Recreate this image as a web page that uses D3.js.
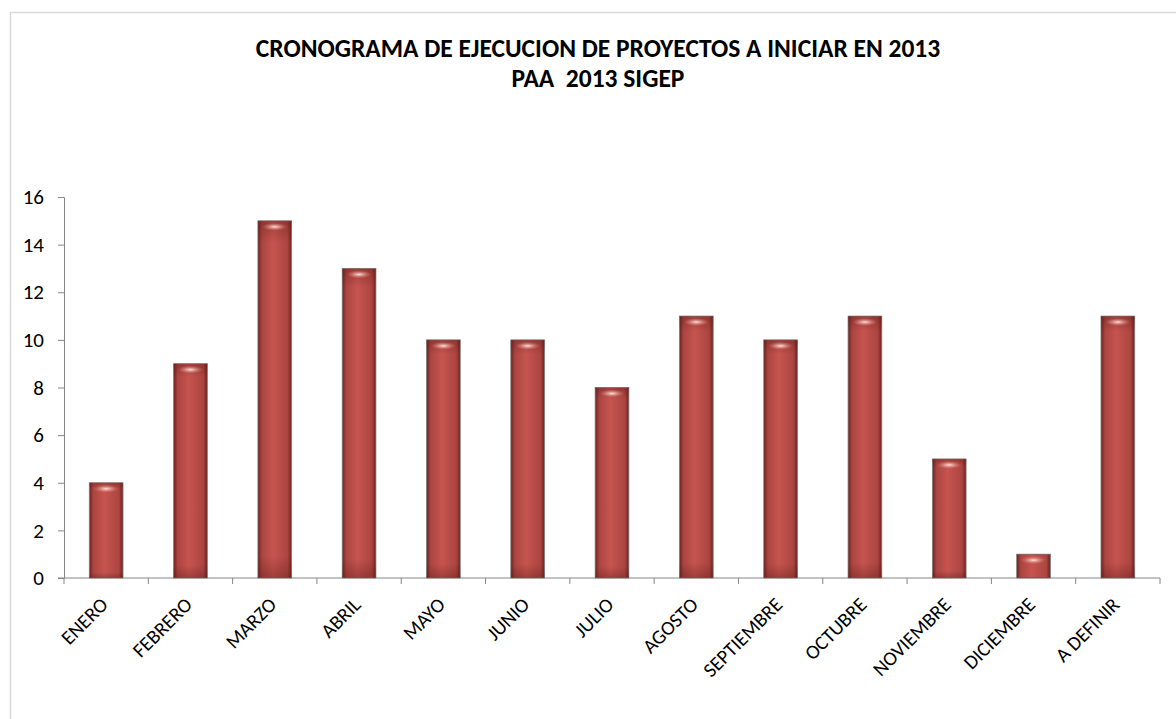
<!DOCTYPE html>
<html>
<head>
<meta charset="utf-8">
<script src="https://d3js.org/d3.v7.min.js"></script>
<style>
  body { margin: 0; background: #fff; }
  svg text { font-family: Carlito, Lato, "Open Sans", sans-serif; }
</style>
</head>
<body>
<div id="vis"></div>
<script>
// chart data
var months = ["ENERO", "FEBRERO", "MARZO", "ABRIL", "MAYO", "JUNIO", "JULIO",
  "AGOSTO", "SEPTIEMBRE", "OCTUBRE", "NOVIEMBRE", "DICIEMBRE", "A DEFINIR"];
var projects = [4, 9, 15, 13, 10, 10, 8, 11, 10, 11, 5, 1, 11];
var yTicks = [0, 2, 4, 6, 8, 10, 12, 14, 16];
var titleLines = ["CRONOGRAMA DE EJECUCION DE PROYECTOS A INICIAR EN 2013", "PAA  2013 SIGEP"];

var W = 1176, H = 719;
var margin = { top: 197, right: 16, bottom: 141, left: 64 };
var width = W - margin.left - margin.right,
    height = H - margin.top - margin.bottom;

var svg = d3.select("#vis").append("svg")
  .attr("width", W)
  .attr("height", H);

// outer chart frame (only top/left visible in the window)
svg.append("rect")
  .attr("x", 10.5).attr("y", 12.5)
  .attr("width", W + 20).attr("height", H + 20)
  .attr("fill", "none")
  .attr("stroke", "#d9d9d9")
  .attr("stroke-width", 1.5);

var defs = svg.append("defs");
var gx = defs.append("linearGradient").attr("id", "barH")
  .attr("x1", "0").attr("x2", "1").attr("y1", "0").attr("y2", "0");
gx.append("stop").attr("offset", "0%").attr("stop-color", "#6e211e");
gx.append("stop").attr("offset", "12%").attr("stop-color", "#ab4541");
gx.append("stop").attr("offset", "45%").attr("stop-color", "#c6544f");
gx.append("stop").attr("offset", "88%").attr("stop-color", "#ab4541");
gx.append("stop").attr("offset", "100%").attr("stop-color", "#6e211e");

var gy = defs.append("linearGradient").attr("id", "barV")
  .attr("x1", "0").attr("x2", "0").attr("y1", "0").attr("y2", "1");
gy.append("stop").attr("offset", "0%").attr("stop-color", "#5a1512").attr("stop-opacity", 0.35);
gy.append("stop").attr("offset", "6%").attr("stop-color", "#5a1512").attr("stop-opacity", 0);
gy.append("stop").attr("offset", "94%").attr("stop-color", "#5a1512").attr("stop-opacity", 0);
gy.append("stop").attr("offset", "100%").attr("stop-color", "#5a1512").attr("stop-opacity", 0.35);

var gh = defs.append("radialGradient").attr("id", "barHi");
gh.append("stop").attr("offset", "0%").attr("stop-color", "#ffe4dc").attr("stop-opacity", 1);
gh.append("stop").attr("offset", "100%").attr("stop-color", "#e07a72").attr("stop-opacity", 0);

var g = svg.append("g")
  .attr("transform", "translate(" + margin.left + "," + margin.top + ")");

var x = d3.scaleBand()
  .domain(months)
  .range([0, width])
  .paddingInner(0.6)
  .paddingOuter(0.3);

var y = d3.scaleLinear()
  .domain([0, 16])
  .range([height, 0]);

// title
svg.append("g").selectAll("text")
  .data(titleLines)
  .join("text")
  .attr("x", 598)
  .attr("y", function(d, i) { return 57 + i * 30; })
  .attr("text-anchor", "middle")
  .style("white-space", "pre")
  .style("font-size", "25.5px")
  .style("font-weight", "bold")
  .text(function(d) { return d; });

// y axis
var yAxis = g.append("g")
  .call(d3.axisLeft(y).tickValues(yTicks).tickSize(6).tickPadding(14));
yAxis.selectAll("path, line").attr("stroke", "#868686");
yAxis.selectAll("text").style("font-size", "21px").attr("fill", "#000");

// x axis: ticks at category boundaries
var bounds = d3.range(months.length + 1).map(function(i) { return i * width / months.length; });
var xAxis = g.append("g").attr("transform", "translate(0," + height + ")");
xAxis.append("line")
  .attr("x1", -6).attr("x2", width)
  .attr("stroke", "#868686");
xAxis.selectAll(".tk")
  .data(bounds)
  .join("line")
  .attr("class", "tk")
  .attr("x1", function(d) { return d; })
  .attr("x2", function(d) { return d; })
  .attr("y1", 0).attr("y2", 6)
  .attr("stroke", "#868686");

// bars
var bars = g.append("g").selectAll("g")
  .data(projects)
  .join("g")
  .attr("transform", function(d, i) { return "translate(" + x(months[i]) + ",0)"; });

bars.append("rect")
  .attr("y", function(d) { return y(d); })
  .attr("width", x.bandwidth())
  .attr("height", function(d) { return height - y(d); })
  .attr("fill", "url(#barH)")
  .attr("stroke", "#7f7f7f")
  .attr("stroke-width", 0.8);

bars.append("rect")
  .attr("y", function(d) { return y(d); })
  .attr("width", x.bandwidth())
  .attr("height", function(d) { return height - y(d); })
  .attr("fill", "url(#barV)");

bars.append("ellipse")
  .attr("cx", x.bandwidth() / 2)
  .attr("cy", function(d) { return y(d) + 6; })
  .attr("rx", x.bandwidth() * 0.38)
  .attr("ry", 4)
  .attr("fill", "url(#barHi)");

// rotated category labels
g.append("g").selectAll("text")
  .data(months)
  .join("text")
  .attr("transform", function(d) {
    return "translate(" + (x(d) + x.bandwidth() / 2 - 2) + "," + (height + 23) + ") rotate(-45)";
  })
  .attr("text-anchor", "end")
  .attr("dy", "0.35em")
  .style("font-size", "20px")
  .text(function(d) { return d; });
</script>
</body>
</html>
